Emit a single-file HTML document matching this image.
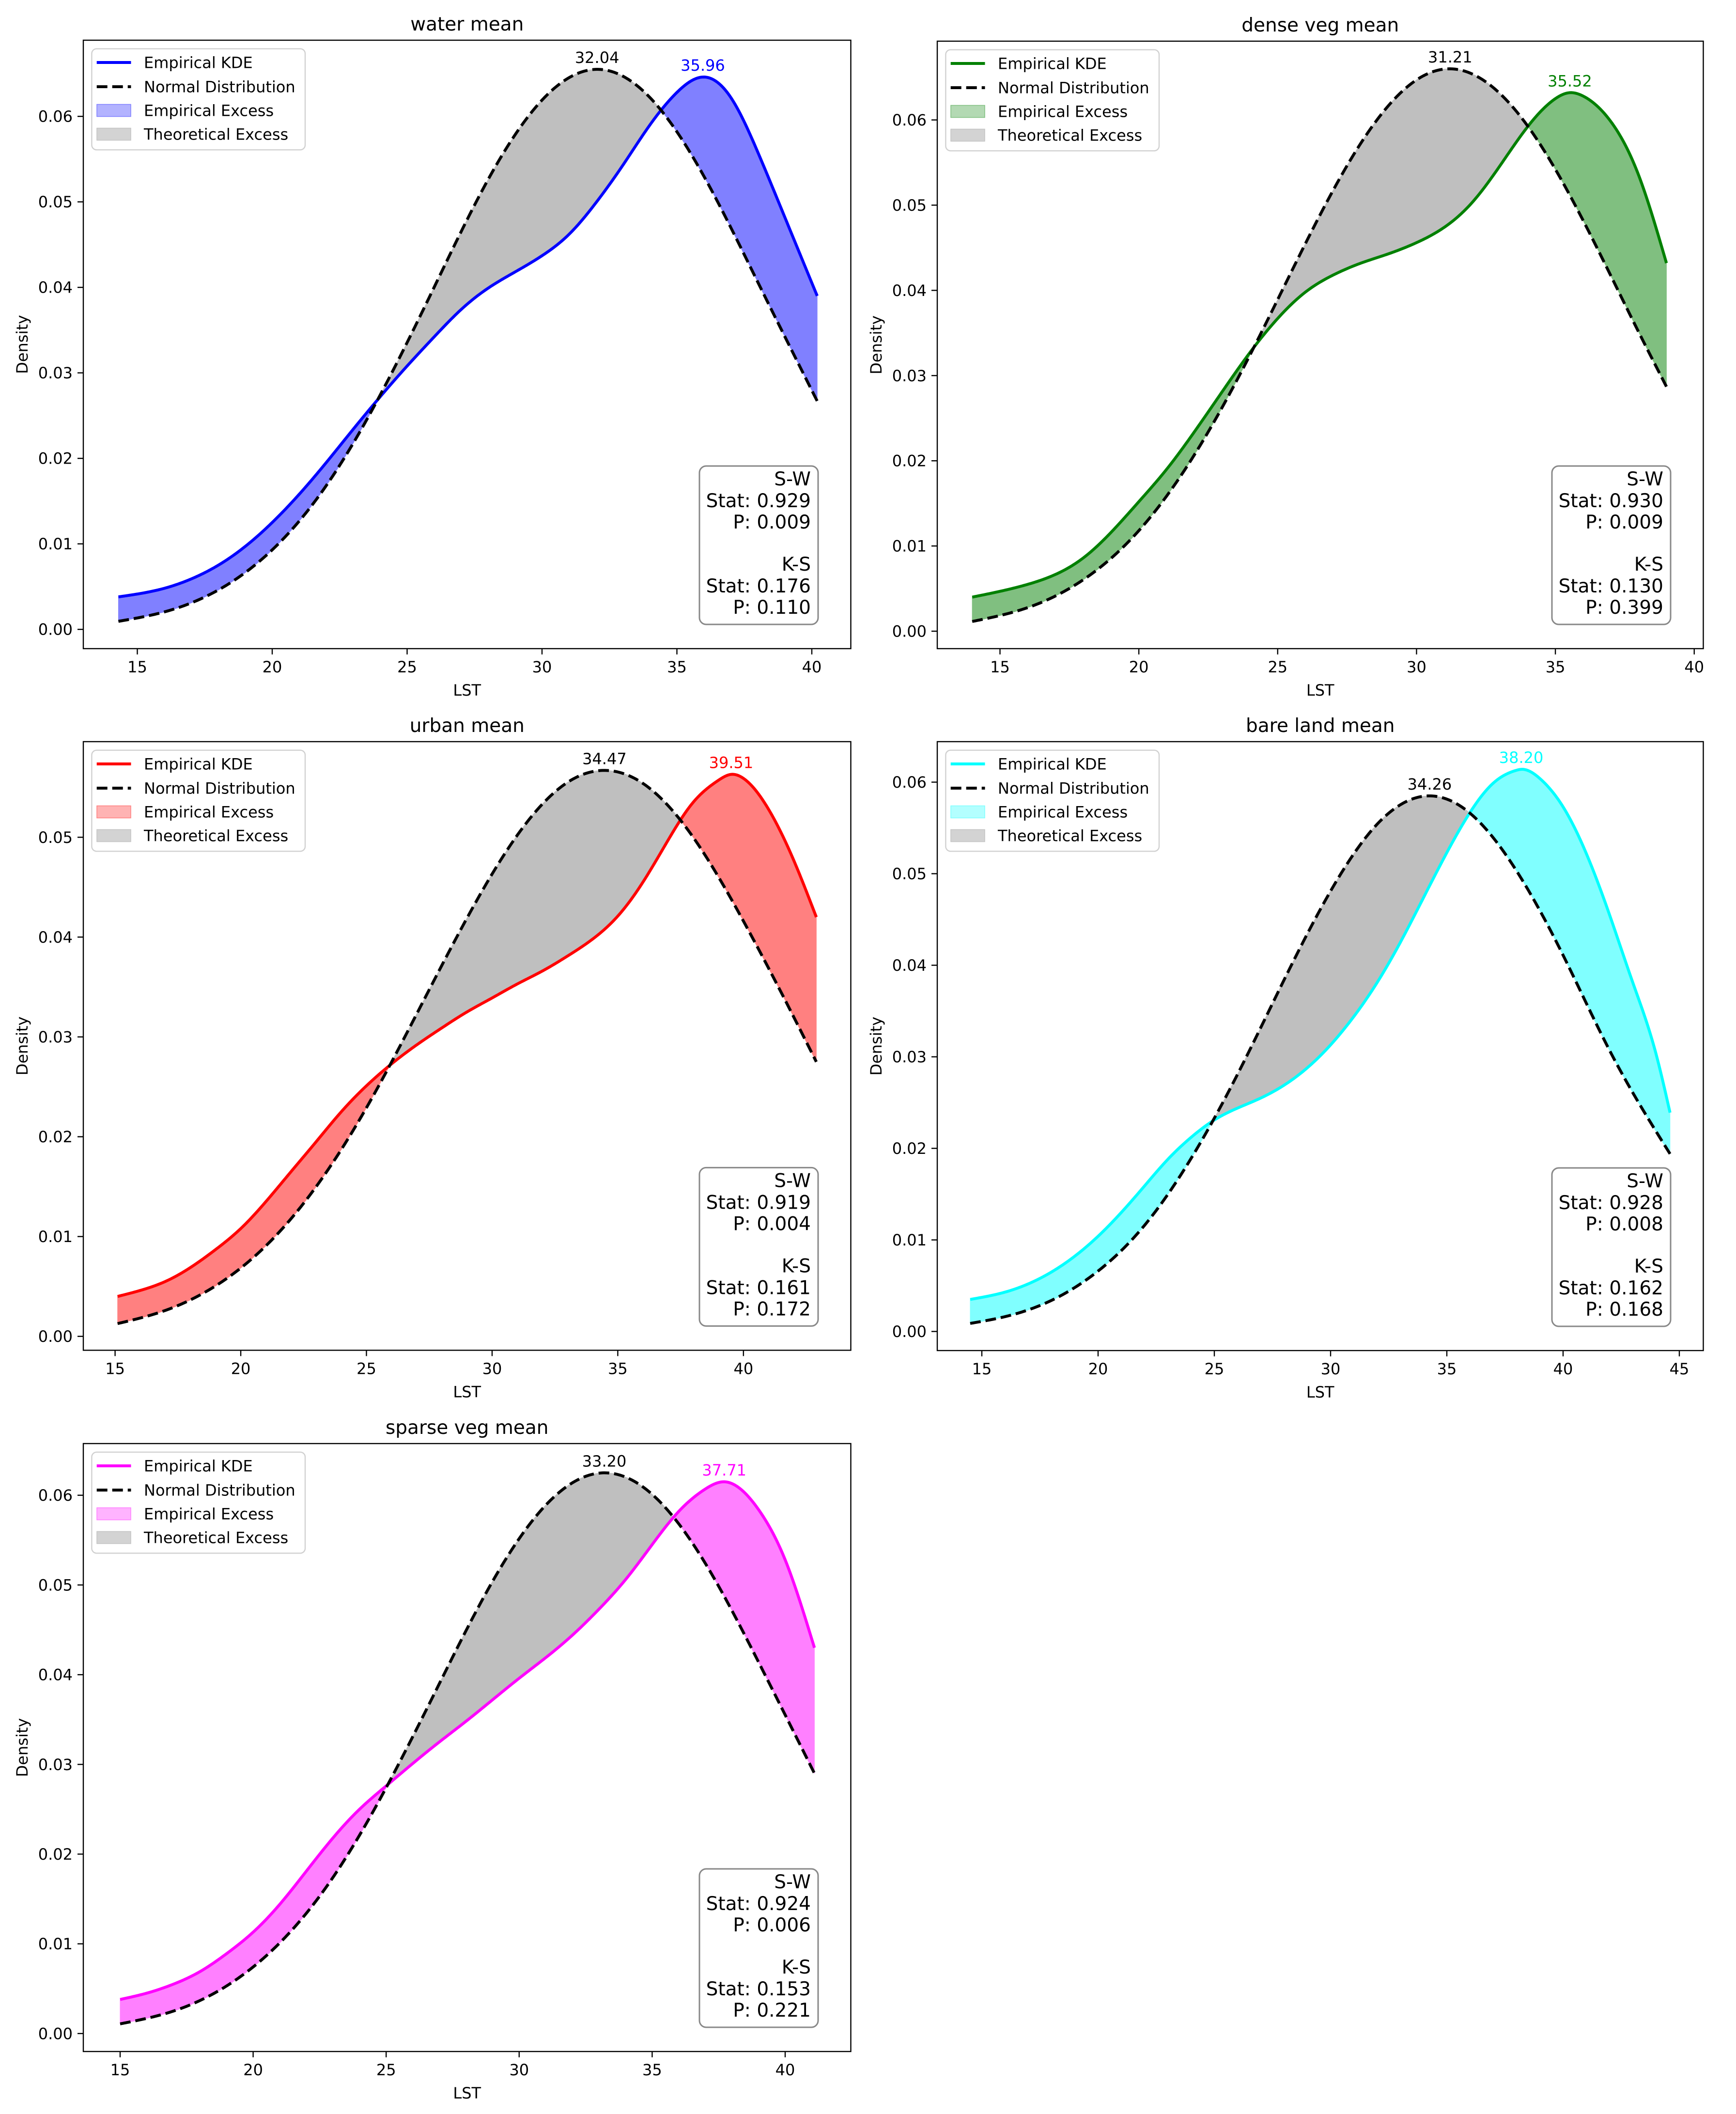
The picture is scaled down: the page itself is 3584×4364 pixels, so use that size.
<!DOCTYPE html>
<html><head><meta charset="utf-8"><title>KDE vs Normal</title>
<style>html,body{margin:0;padding:0;background:#fff}svg{display:block}text{font-family:"DejaVu Sans","Liberation Sans",sans-serif}</style>
</head><body>
<svg id="fig" xmlns="http://www.w3.org/2000/svg" width="3584" height="4364" viewBox="0 0 3584 4364"></svg>
<script>
// ---------- data ----------
const waterKdeX = [14.3,16,17,18,19,20,21,22,23,24,25,26,27,28,29,30,31,32,33,34,35,36,37,38,39,40.2];
const waterKde = [0.0038,0.0048,0.0059,0.0075,0.0097,0.0125,0.0158,0.0195,0.0234,0.0272,0.0308,0.0342,0.0374,0.0399,0.0418,0.0437,0.0462,0.0499,0.0543,0.0590,0.0628,0.0646,0.0622,0.0558,0.0482,0.039];
const waterNormX = [14.3,16,18,20,22,24,26,28,30,32.04,34,36,38,40.2];
const waterNorm = [0.00094,0.00204,0.0046,0.0093,0.0168,0.0274,0.040,0.0526,0.0619,0.0655,0.0622,0.0530,0.0406,0.0267];
const waterPeaks = [32.04,35.96];
const waterStats = ["0.929","0.009","0.176","0.110"];

const denseKdeX = [14,16,18,20,21,22,23,24,25,26,27,28,29,30,31,32,33,34,35,35.52,36,37,38,39];
const denseKde = [0.004,0.0055,0.0086,0.0152,0.019,0.0234,0.0281,0.0327,0.0367,0.0398,0.0418,0.0432,0.0443,0.0456,0.0474,0.0503,0.0546,0.0592,0.0625,0.0632,0.0628,0.0598,0.0535,0.0432];
const denseNormX = [14,16,18,20,22,24,26,28,30,31.21,32,34,36,38,39];
const denseNorm = [0.00114,0.00277,0.00604,0.0118,0.0207,0.0324,0.0455,0.0573,0.0647,0.066,0.0654,0.0593,0.0482,0.0351,0.0287];
const densePeaks = [31.21,35.52];
const denseStats = ["0.930","0.009","0.130","0.399"];

const urbanKdeX = [15.1,16,17,18,19,20,21,22,23,24,25,26,27,28,29,30,31,32,33,34,35,36,37,38,39,39.51,40,41,42,42.9];
const urbanKde = [0.004,0.0046,0.0055,0.0069,0.0087,0.0108,0.0135,0.0165,0.0195,0.0225,0.0251,0.0273,0.0292,0.0309,0.0325,0.0339,0.0353,0.0366,0.0381,0.0398,0.0421,0.0455,0.0497,0.0535,0.0557,0.0563,0.0559,0.0528,0.0477,0.042];
const urbanNormX = [15.1,17,19,21,23,25,27,29,31,33,34.47,36,38,40,42,42.9];
const urbanNorm = [0.00128,0.0026,0.00506,0.00907,0.015,0.0229,0.0323,0.0419,0.0502,0.0555,0.0567,0.0554,0.05,0.0416,0.032,0.0275];
const urbanPeaks = [34.47,39.51];
const urbanStats = ["0.919","0.004","0.161","0.172"];

const bareKdeX = [14.5,16,18,20,21,22,23,24,25,26,27,28,29,30,31,32,33,34,35,36,37,38,38.2,39,40,41,42,43,44,44.6];
const bareKde = [0.0035,0.0043,0.0065,0.0104,0.013,0.0159,0.0188,0.0212,0.0231,0.0244,0.0255,0.0269,0.0288,0.0313,0.0344,0.0381,0.0425,0.0474,0.0523,0.0567,0.0599,0.0613,0.0614,0.0604,0.0573,0.0522,0.0455,0.0381,0.0303,0.0239];
const bareNormX = [14.5,16,18,20,22,24,26,28,30,32,34.26,36,38,40,42,44.6];
const bareNorm = [0.00088,0.00162,0.0034,0.0066,0.0116,0.0189,0.0281,0.0384,0.0481,0.0554,0.0585,0.0566,0.0503,0.0411,0.0307,0.0194];
const barePeaks = [34.26,38.20];
const bareStats = ["0.928","0.008","0.162","0.168"];

const sparseKdeX = [15,16,17,18,19,20,21,22,23,24,25,26,27,28,29,30,31,32,33,34,35,36,37,37.71,38,39,40,41.1];
const sparseKde = [0.0038,0.0045,0.0055,0.0069,0.0089,0.0113,0.0144,0.0181,0.0218,0.0250,0.0276,0.0301,0.0325,0.0348,0.0372,0.0396,0.0419,0.0444,0.0473,0.0506,0.0545,0.0582,0.0607,0.0615,0.0613,0.0584,0.0528,0.043];
const sparseNormX = [15,17,19,21,23,25,27,29,31,33.2,35,37,39,41.1];
const sparseNorm = [0.00108,0.0025,0.0053,0.0101,0.0174,0.0274,0.039,0.0504,0.0589,0.0625,0.0601,0.0524,0.0414,0.029];
const sparsePeaks = [33.20,37.71];
const sparseStats = ["0.924","0.006","0.153","0.221"];

const xTicksA = [15,20,25,30,35,40];
const xTicksB = [15,20,25,30,35,40,45];
const yTicks6 = [0,0.01,0.02,0.03,0.04,0.05,0.06];
const yTicks5 = [0,0.01,0.02,0.03,0.04,0.05];
const titles = ["water mean","dense veg mean","urban mean","bare land mean","sparse veg mean"];

// ---------- layout ----------
const panels = [
 {key:"water",title:titles[0],kx:waterKdeX,ky:waterKde,nx:waterNormX,ny:waterNorm,peaks:waterPeaks,stats:waterStats,
  ax:[172,83,1756.5,1339],x15:283.5,kxs:55.7,y0:1299.2,ky01:176.5,xt:xTicksA,yt:yTicks6,line:"#0000ff",fill:"#8080ff",leg:"#b3b3ff"},
 {key:"dense",title:titles[1],kx:denseKdeX,ky:denseKde,nx:denseNormX,ny:denseNorm,peaks:densePeaks,stats:denseStats,
  ax:[1935,85,3516.5,1339],x15:2064.5,kxs:57.33,y0:1303,ky01:175.9,xt:xTicksA,yt:yTicks6,line:"#008000",fill:"#80bf80",leg:"#b3d9b3"},
 {key:"urban",title:titles[2],kx:urbanKdeX,ky:urbanKde,nx:urbanNormX,ny:urbanNorm,peaks:urbanPeaks,stats:urbanStats,
  ax:[172,1531,1756.5,2787.4],x15:237.6,kxs:51.89,y0:2758.7,ky01:206.06,xt:xTicksA,yt:yTicks5,line:"#ff0000",fill:"#ff8080",leg:"#ffb3b3"},
 {key:"bare",title:titles[3],kx:bareKdeX,ky:bareKde,nx:bareNormX,ny:bareNorm,peaks:barePeaks,stats:bareStats,
  ax:[1935,1531,3516.5,2788],x15:2027,kxs:48,y0:2748.6,ky01:189,xt:xTicksB,yt:yTicks6,line:"#00ffff",fill:"#80ffff",leg:"#b3ffff"},
 {key:"sparse",title:titles[4],kx:sparseKdeX,ky:sparseKde,nx:sparseNormX,ny:sparseNorm,peaks:sparsePeaks,stats:sparseStats,
  ax:[172,2980,1756.5,4235],x15:248,kxs:54.92,y0:4197.9,ky01:185.2,xt:xTicksA,yt:yTicks6,line:"#ff00ff",fill:"#ff80ff",leg:"#ffb3ff"}
];

const NS = "http://www.w3.org/2000/svg";
const fig = document.getElementById("fig");
function mk(tag, attrs, parent){
  const e = document.createElementNS(NS, tag);
  for (const k in attrs) e.setAttribute(k, attrs[k]);
  (parent||fig).appendChild(e);
  return e;
}
// natural cubic spline
function spline(xs, ys){
  const n = xs.length, h = [], al = [0], l = [1], mu = [0], z = [0], c = new Array(n).fill(0);
  for (let i=0;i<n-1;i++) h.push(xs[i+1]-xs[i]);
  for (let i=1;i<n-1;i++) al.push(3/h[i]*(ys[i+1]-ys[i]) - 3/h[i-1]*(ys[i]-ys[i-1]));
  for (let i=1;i<n-1;i++){
    l[i] = 2*(xs[i+1]-xs[i-1]) - h[i-1]*mu[i-1];
    mu[i] = h[i]/l[i];
    z[i] = (al[i]-h[i-1]*z[i-1])/l[i];
  }
  const b = [], d = [];
  for (let j=n-2;j>=0;j--){
    c[j] = (j===0?0:z[j]) - (j===0?0:mu[j])*c[j+1];
    if (j===0) c[0]=0;
    b[j] = (ys[j+1]-ys[j])/h[j] - h[j]*(c[j+1]+2*c[j])/3;
    d[j] = (c[j+1]-c[j])/(3*h[j]);
  }
  return x => {
    if (x <= xs[0]) return ys[0];
    if (x >= xs[n-1]) return ys[n-1];
    let i = 0;
    while (i < n-2 && x > xs[i+1]) i++;
    const t = x - xs[i];
    return ys[i] + b[i]*t + c[i]*t*t + d[i]*t*t*t;
  };
}

panels.forEach(p => {
  const [L,T,R,B] = p.ax;
  const X = v => p.x15 + (v-15)*p.kxs;
  const Y = v => p.y0 - v*100*p.ky01;
  const fk = spline(p.kx, p.ky), fn = spline(p.nx, p.ny);
  const g = mk("g", {});
  
  

  const xmin = Math.max(p.kx[0], p.nx[0]), xmax = Math.min(p.kx[p.kx.length-1], p.nx[p.nx.length-1]);
  const N = 500, pts = [];
  for (let i=0;i<=N;i++){ const x = xmin + (xmax-xmin)*i/N; pts.push([x, fk(x), fn(x)]); }
  let run = [pts[0]], sign = Math.sign(pts[0][1]-pts[0][2]);
  const flush = (r, s) => {
    if (r.length < 2) return;
    const top = r.map(q => X(q[0]).toFixed(2)+","+Y(q[1]).toFixed(2));
    const bot = r.slice().reverse().map(q => X(q[0]).toFixed(2)+","+Y(q[2]).toFixed(2));
    const poly = mk("polygon", {points: top.concat(bot).join(" "), fill: s>=0 ? p.fill : "#bfbfbf", stroke: s>=0 ? p.fill : "#bfbfbf", "stroke-width":1}, g);
    
    
  };
  for (let i=1;i<pts.length;i++){
    const d = pts[i][1]-pts[i][2], s = Math.sign(d);
    if (s !== sign && s !== 0 && sign !== 0){
      const d0 = pts[i-1][1]-pts[i-1][2], f = d0/(d0-d);
      const cx = pts[i-1][0] + f*(pts[i][0]-pts[i-1][0]);
      const cy = pts[i-1][2] + f*(pts[i][2]-pts[i-1][2]);
      const cp = [cx, cy, cy];
      run.push(cp); flush(run, sign); run = [cp]; sign = s;
    } else if (sign === 0) sign = s;
    run.push(pts[i]);
  }
  flush(run, sign);

  const kpts = [], npts = [];
  for (let i=0;i<=N;i++){
    const xk = p.kx[0] + (p.kx[p.kx.length-1]-p.kx[0])*i/N;
    kpts.push(X(xk).toFixed(2)+","+Y(fk(xk)).toFixed(2));
    const xn = p.nx[0] + (p.nx[p.nx.length-1]-p.nx[0])*i/N;
    npts.push(X(xn).toFixed(2)+","+Y(fn(xn)).toFixed(2));
  }
  const kl = mk("polyline", {points:kpts.join(" "), fill:"none", stroke:p.line, "stroke-width":6, "stroke-linejoin":"round"}, g);
  
  
  const nl = mk("polyline", {points:npts.join(" "), fill:"none", stroke:"#000", "stroke-width":6, "stroke-dasharray":"22,10"}, g);
  
  

  const np = p.peaks[0], kp = p.peaks[1];
  const t1 = mk("text", {x:X(np), y:Y(fn(np))-13, "text-anchor":"middle", "font-size":32, fill:"#000"}, g);
  t1.textContent = np.toFixed(2);
  
  
  const t2 = mk("text", {x:X(kp), y:Y(fk(kp))-13, "text-anchor":"middle", "font-size":32, fill:p.line}, g);
  t2.textContent = kp.toFixed(2);
  
  

  const fr = mk("rect", {x:L, y:T, width:R-L, height:B-T, fill:"none", stroke:"#000", "stroke-width":2.4}, g);
  
  

  p.xt.forEach(v => {
    mk("line", {x1:X(v), x2:X(v), y1:B, y2:B+12, stroke:"#000", "stroke-width":2.4}, g);
    const t = mk("text", {x:X(v), y:B+49, "text-anchor":"middle", "font-size":32}, g);
    t.textContent = String(v);
    
    
  });
  p.yt.forEach(v => {
    mk("line", {x1:L-12, x2:L, y1:Y(v), y2:Y(v), stroke:"#000", "stroke-width":2.4}, g);
    const t = mk("text", {x:L-22, y:Y(v)+11.5, "text-anchor":"end", "font-size":32}, g);
    t.textContent = v.toFixed(2);
    
    
  });
  const xl = mk("text", {x:(L+R)/2, y:B+97, "text-anchor":"middle", "font-size":32}, g);
  xl.textContent = "LST";
  
  
  const cy = (T+B)/2, lx = L-126;
  const yl = mk("text", {x:lx, y:cy, "text-anchor":"middle", "font-size":32, transform:"rotate(-90 "+lx+" "+cy+")", "dominant-baseline":"central"}, g);
  yl.textContent = "Density";
  
  
  const ti = mk("text", {x:(L+R)/2, y:T-20, "text-anchor":"middle", "font-size":39}, g);
  ti.textContent = p.title;
  
  

  const lg = mk("g", {}, g);
  
  
  mk("rect", {x:L+17.4, y:T+17.7, width:440.6, height:208.6, rx:10, fill:"#fff", "fill-opacity":0.8, stroke:"#d0d0d0", "stroke-width":2.4}, lg);
  const rows = [T+46, T+96, T+145, T+194];
  const labels = ["Empirical KDE","Normal Distribution","Empirical Excess","Theoretical Excess"];
  mk("line", {x1:L+27.7, x2:L+98.5, y1:rows[0], y2:rows[0], stroke:p.line, "stroke-width":6}, lg);
  mk("line", {x1:L+27.7, x2:L+98.5, y1:rows[1], y2:rows[1], stroke:"#000", "stroke-width":6, "stroke-dasharray":"22,10"}, lg);
  mk("rect", {x:L+28, y:rows[2]-12.5, width:70, height:25, fill:p.leg, stroke:p.fill, "stroke-width":1.5}, lg);
  mk("rect", {x:L+28, y:rows[3]-12.5, width:70, height:25, fill:"#d3d3d3", stroke:"#c4c4c4", "stroke-width":1.5}, lg);
  labels.forEach((s,i) => {
    const t = mk("text", {x:L+125, y:rows[i]+11.5, "font-size":32}, lg);
    t.textContent = s;
    
    
  });

  const sb = mk("g", {}, g);
  
  
  mk("rect", {x:R-312.5, y:B-377, width:245, height:327, rx:14, fill:"#fff", stroke:"#888", "stroke-width":3}, sb);
  const lines = ["S-W","Stat: "+p.stats[0],"P: "+p.stats[1],"K-S","Stat: "+p.stats[2],"P: "+p.stats[3]];
  const offs = [337,292,248,161,116,72];
  lines.forEach((s,i) => {
    const t = mk("text", {x:R-82.5, y:B-offs[i], "text-anchor":"end", "font-size":39}, sb);
    t.textContent = s;
  });
});
</script>
</body></html>
